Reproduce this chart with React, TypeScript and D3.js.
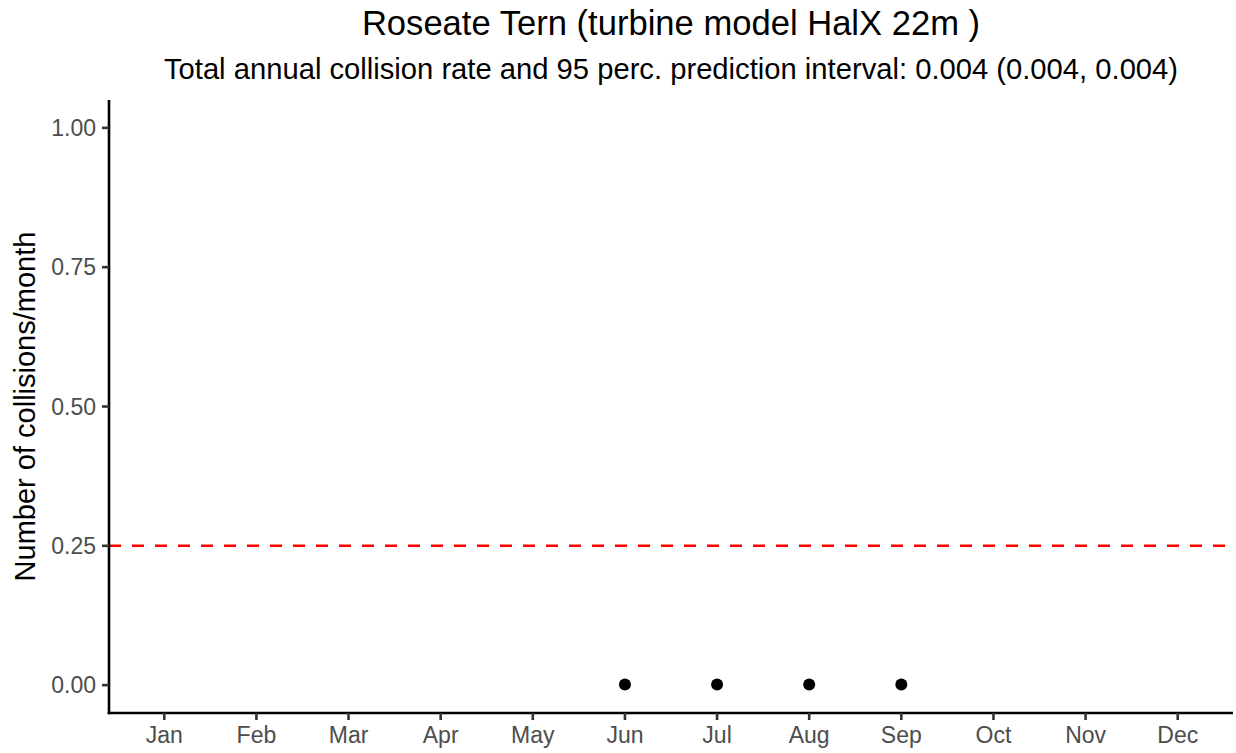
import React from "react";
import * as d3 from "d3";

// Monthly collision estimates, Roseate Tern, turbine HalX 22m
const months = ["Jan", "Feb", "Mar", "Apr", "May", "Jun", "Jul", "Aug", "Sep", "Oct", "Nov", "Dec"];
const activeMonths = ["Jun", "Jul", "Aug", "Sep"];
const collisions = [0.001, 0.001, 0.001, 0.001];
const yTicks = [0, 0.25, 0.5, 0.75, 1];
const threshold = 0.25;

const W = 1236;
const H = 753;
const margin = { left: 109, right: 3, top: 100, bottom: 40 };

export default function App() {
  const x = d3
    .scalePoint<string>()
    .domain(months)
    .range([margin.left, W - margin.right])
    .padding(0.6);
  const y = d3
    .scaleLinear()
    .domain([-0.05, 1.05])
    .range([H - margin.bottom, margin.top]);

  const x0 = margin.left;
  const x1 = W - margin.right;
  const yb = H - margin.bottom;
  const font = "Liberation Sans, Arial, sans-serif";

  return (
    <svg
      width={W}
      height={H}
      style={{ position: "absolute", left: 0, top: 0, background: "#fff" }}
      fontFamily={font}
    >
      <text x={(x0 + x1) / 2} y={35} textAnchor="middle" fontSize={34.6} fill="#000">
        Roseate Tern (turbine model HalX 22m )
      </text>
      <text x={(x0 + x1) / 2} y={79} textAnchor="middle" fontSize={29.2} fill="#000">
        Total annual collision rate and 95 perc. prediction interval: 0.004 (0.004, 0.004)
      </text>

      {/* threshold line */}
      <line
        x1={x0}
        x2={x1}
        y1={y(threshold)}
        y2={y(threshold)}
        stroke="#ff0000"
        strokeWidth={2.6}
        strokeDasharray="12 11"
      />

      {/* points */}
      {activeMonths.map((m, i) => (
        <circle key={m} cx={x(m)} cy={y(collisions[i])} r={6} fill="#000" />
      ))}

      {/* y axis */}
      <line x1={x0} x2={x0} y1={margin.top} y2={yb + 1.3} stroke="#000" strokeWidth={2.6} />
      {yTicks.map((t) => (
        <g key={t}>
          <line x1={x0 - 7} x2={x0} y1={y(t)} y2={y(t)} stroke="#333" strokeWidth={2.6} />
          <text
            x={x0 - 13}
            y={y(t)}
            dy="0.36em"
            textAnchor="end"
            fontSize={23}
            fill="#4d4d4d"
          >
            {d3.format(".2f")(t)}
          </text>
        </g>
      ))}

      {/* x axis */}
      <line x1={x0 - 1.3} x2={x1} y1={yb} y2={yb} stroke="#000" strokeWidth={2.6} />
      {months.map((m) => (
        <g key={m}>
          <line x1={x(m)} x2={x(m)} y1={yb} y2={yb + 7} stroke="#333" strokeWidth={2.6} />
          <text x={x(m)} y={yb + 30} textAnchor="middle" fontSize={23} fill="#4d4d4d">
            {m}
          </text>
        </g>
      ))}

      <text
        transform={`translate(35, ${(margin.top + yb) / 2}) rotate(-90)`}
        textAnchor="middle"
        fontSize={29}
        fill="#000"
      >
        Number of collisions/month
      </text>
    </svg>
  );
}
